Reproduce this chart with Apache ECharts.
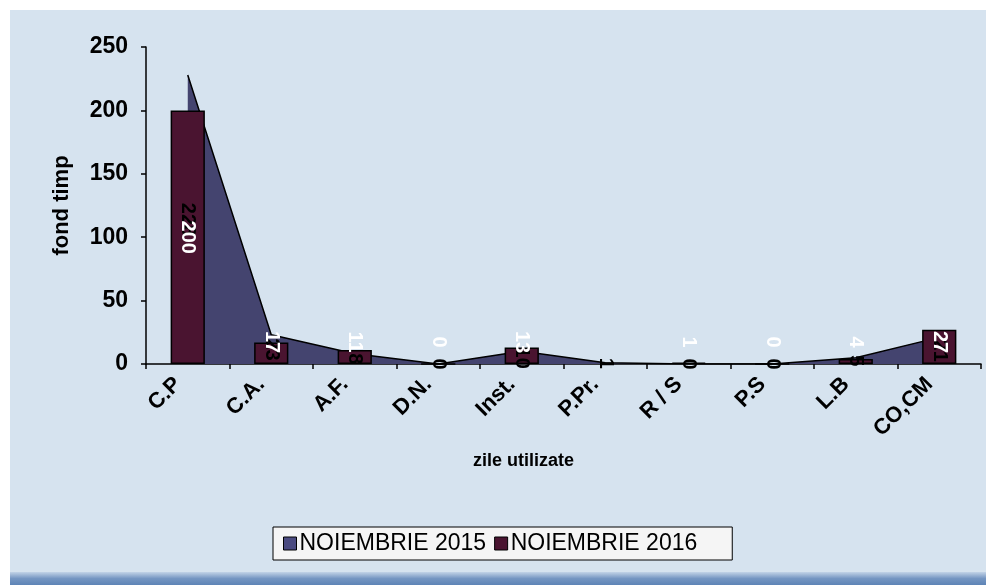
<!DOCTYPE html>
<html>
<head>
<meta charset="utf-8">
<script src="https://cdn.jsdelivr.net/npm/echarts@6/dist/echarts.min.js"></script>
<style>
html,body{margin:0;padding:0;background:#fff;}
#chart{width:986px;height:585px;}
</style>
</head>
<body>
<div id="chart"></div>
<script>
const categories = ['C.P', 'C.A.', 'A.F.', 'D.N.', 'Inst.', 'P.Pr.', 'R / S', 'P.S', 'L.B', 'CO,CM'];
const nov2015 = [228, 23, 8, 0, 10, 1, 0, 0, 5, 21];
const nov2016 = [200, 17, 11, 0, 13, null, 1, 0, 4, 27];
const yTicks = { min: 0, max: 250, interval: 50 };
const seriesNames = ['NOIEMBRIE 2015', 'NOIEMBRIE 2016'];

const chart = echarts.init(document.getElementById('chart'), null, { renderer: 'canvas' });
const FONT = 'Arial, "Liberation Sans", sans-serif';

function labelSeries(name, values, color, minLift, z) {
  return {
    name: name, type: 'custom', z: z, silent: true,
    data: values.map((v, i) => [i, v]),
    renderItem: function (params, api) {
      const v = api.value(1);
      if (v === null || v === undefined || isNaN(v)) return null;
      const p = api.coord([api.value(0), v / 2]);
      const base = api.coord([api.value(0), 0]);
      const y = minLift ? Math.min(p[1], base[1] - minLift) : p[1];
      return {
        type: 'text', x: p[0], y: y, rotation: -Math.PI / 2,
        style: { text: String(v), fill: color, font: 'bold 20px ' + FONT,
          align: 'center', verticalAlign: 'middle' }
      };
    }
  };
}

chart.setOption({
  backgroundColor: '#ffffff',
  animation: false,
  graphic: [
    { type: 'rect', z: -10, shape: { x: 10, y: 10, width: 976, height: 563 }, style: { fill: '#D6E3EF' } },
    { type: 'rect', z: -10, shape: { x: 10, y: 572, width: 976, height: 13 },
      style: { fill: new echarts.graphic.LinearGradient(0, 0, 0, 1, [
        { offset: 0, color: '#C2D3E7' }, { offset: 0.5, color: '#7596C2' }, { offset: 1, color: '#5E84B6' }]) } }
  ],
  grid: { left: 146, right: 5, top: 47, bottom: 221, containLabel: false },
  legend: {
    data: seriesNames,
    left: 273, top: 527,
    backgroundColor: '#F5F5F5', borderColor: '#000', borderWidth: 1,
    padding: [5, 35, 5, 10],
    itemWidth: 13, itemHeight: 13, itemGap: 8,
    icon: 'rect',
    itemStyle: { borderColor: '#000', borderWidth: 1 },
    textStyle: { fontFamily: FONT, fontSize: 23, color: '#000', padding: [0, 0, 0, -2] }
  },
  xAxis: {
    type: 'category', data: categories, boundaryGap: true,
    name: 'zile utilizate', nameLocation: 'middle', nameGap: 88,
    nameTextStyle: { fontFamily: FONT, fontWeight: 'bold', fontSize: 18, color: '#000', padding: [0, 80, 0, 0] },
    axisLine: { lineStyle: { color: '#000', width: 1.5 } },
    axisTick: { show: true, alignWithLabel: false, length: 5, lineStyle: { color: '#000', width: 1.5 } },
    axisLabel: { rotate: 45, margin: 7, interval: 0, fontFamily: FONT, fontWeight: 'bold', fontSize: 22, color: '#000',
      padding: [0, 14, 0, 0] },
    splitLine: { show: false }
  },
  yAxis: {
    type: 'value', min: yTicks.min, max: yTicks.max, interval: yTicks.interval,
    name: 'fond timp', nameLocation: 'middle', nameGap: 73, nameRotate: 90,
    nameTextStyle: { fontFamily: FONT, fontWeight: 'bold', fontSize: 22, color: '#000' },
    axisLine: { show: true, lineStyle: { color: '#000', width: 1.5 } },
    axisTick: { show: true, length: 5, lineStyle: { color: '#000', width: 1.5 } },
    axisLabel: { margin: 18, fontFamily: FONT, fontWeight: 'bold', fontSize: 23, color: '#000' },
    splitLine: { show: false }
  },
  series: [
    {
      name: seriesNames[0], type: 'line', data: nov2015, z: 1,
      symbol: 'none', smooth: false,
      lineStyle: { color: '#000', width: 1.5 },
      itemStyle: { color: '#4A4A80', borderColor: '#000', borderWidth: 1 },
      areaStyle: { color: '#44446F', opacity: 1 }
    },
    {
      name: seriesNames[1], type: 'bar', data: nov2016, z: 2,
      barWidth: '41%',
      itemStyle: { color: '#4A1430', borderColor: '#000', borderWidth: 1.5 }
    },
    labelSeries('labels2015', nov2015, '#000', 0, 3),
    labelSeries('labels2016', nov2016, '#fff', 22, 4)
  ]
});
</script>
</body>
</html>
